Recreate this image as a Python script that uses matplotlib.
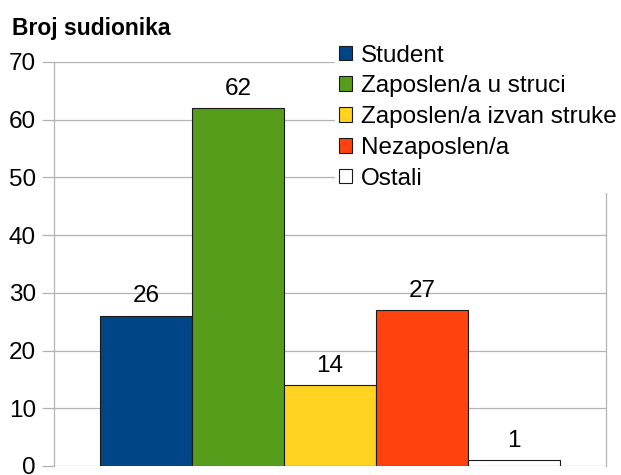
import matplotlib
matplotlib.use("Agg")
import matplotlib.pyplot as plt
from matplotlib.patches import Patch

# data
categories = ["Student", "Zaposlen/a u struci", "Zaposlen/a izvan struke", "Nezaposlen/a", "Ostali"]
values = [26, 62, 14, 27, 1]
colors = ["#004586", "#579D1C", "#FFD320", "#FF420E", "#FFFFFF"]
yticks = [0, 10, 20, 30, 40, 50, 60, 70]

plt.rcParams['font.family'] = ['Liberation Sans', 'DejaVu Sans']

fig = plt.figure(figsize=(6.21, 4.75), dpi=100)
ax = fig.add_axes([54 / 621, 1 - 466 / 475, 552 / 621, 404 / 475])

pos = list(range(len(values)))
bars = ax.bar(pos, values, width=1.0, color=colors, edgecolor="#1a1a1a", linewidth=0.8, zorder=3)
for x, v in zip(pos, values):
    ax.text(x, v + 1.5, str(v), ha="center", va="bottom", fontsize=17.5, zorder=4)

ax.set_xlim(-1, 5)
ax.set_ylim(0, 70)
ax.set_yticks(yticks)
ax.set_xticks([])
ax.grid(axis="y", color="#b3b3b3", linewidth=0.9, zorder=0)
ax.tick_params(axis="y", length=9, width=0.9, color="#b3b3b3", labelsize=17.5, pad=4)
for s in ["top", "bottom"]:
    ax.spines[s].set_visible(False)
for s in ["left", "right"]:
    ax.spines[s].set_color("#b3b3b3")
    ax.spines[s].set_linewidth(0.9)

fig.text(12 / 621, 1 - 28 / 475, "Broj sudionika", fontsize=16.5, fontweight="bold", va="center")

# legend with white background covering gridlines
handles = [Patch(facecolor=c, edgecolor="#1a1a1a", linewidth=0.8) for c in colors]
leg = fig.legend(handles, categories, loc="upper left", bbox_to_anchor=(335 / 621, 1 - 41 / 475),
                 fontsize=17.5, frameon=True, fancybox=False, framealpha=1, edgecolor="white",
                 handlelength=0.55, handleheight=0.55, handletextpad=0.35, labelspacing=0.36,
                 borderpad=0.15, borderaxespad=0)
leg.get_frame().set_linewidth(0)

fig.savefig("out.png", dpi=100)
